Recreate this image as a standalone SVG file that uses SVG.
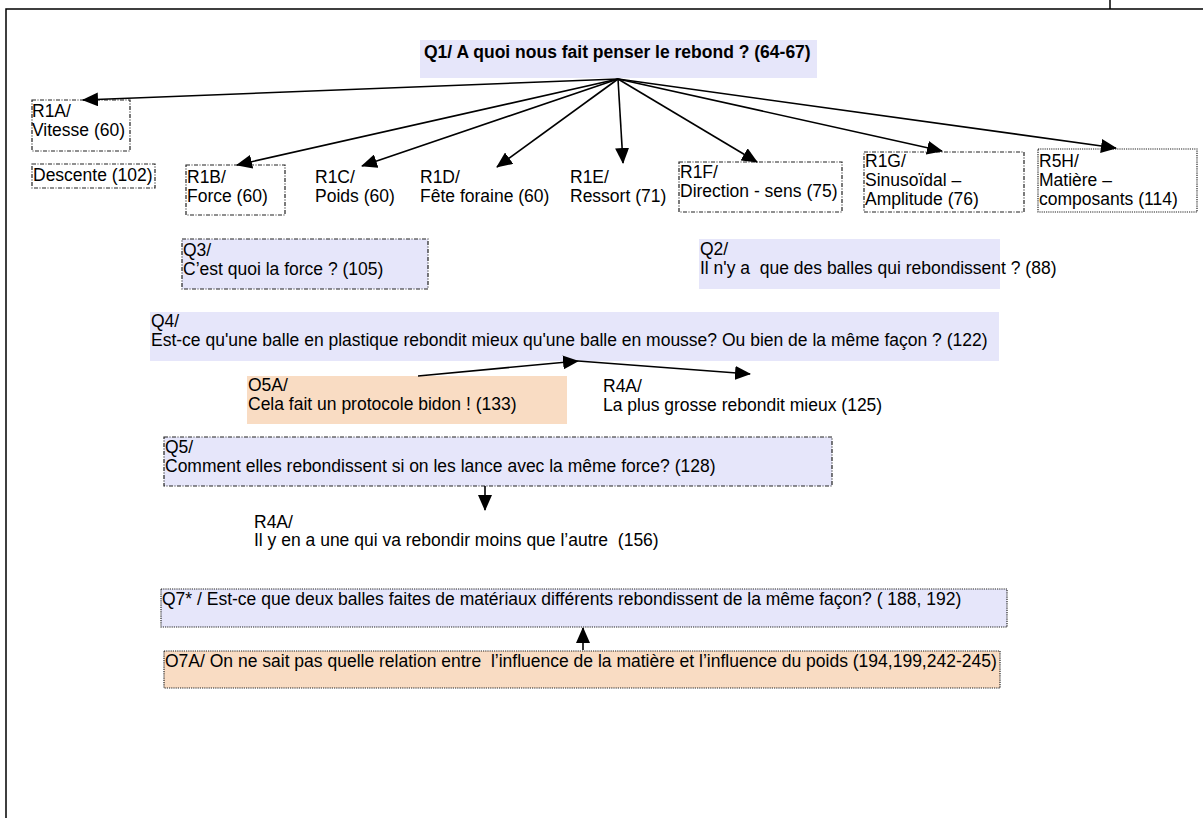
<svg xmlns="http://www.w3.org/2000/svg" width="1203" height="818" viewBox="0 0 1203 818">
<style>
text{font-family:"Liberation Sans",Arial,sans-serif;font-size:17.5px;fill:#000;white-space:pre}
.b{font-weight:bold}
.q{fill:#e6e6fa}
.o{fill:#f9dcc3}
.dd{fill:none;stroke:#222;stroke-width:1.2;stroke-dasharray:4 1.5 1 1.5}
.qd{fill:#e6e6fa;stroke:#222;stroke-width:1.2;stroke-dasharray:4 1.5 1 1.5}
.dt{stroke:#222;stroke-width:1.2;stroke-dasharray:1.2 1}
.c{fill:none;stroke:#000;stroke-width:1.6;marker-end:url(#ah)}
</style>
<defs>
<marker id="ah" markerUnits="userSpaceOnUse" markerWidth="16" markerHeight="14" viewBox="0 0 16 14" refX="15" refY="7" orient="auto">
<path d="M0,0 L16,7 L0,14 Z" fill="#000"/>
</marker>
</defs>
<rect width="1203" height="818" fill="#fff"/>
<g id="frame" fill="none" stroke="#000" stroke-width="1.5">
<path d="M6,818 V9 H1203"/>
<path d="M1110,0 V9"/>
</g>
<g id="Q1"><rect class="q" x="420" y="40" width="397" height="38"/><text class="b" x="424" y="58">Q1/ A quoi nous fait penser le rebond ? (64-67)</text></g>
<g id="R1A"><rect class="dd" x="32" y="100" width="98" height="51"/><text x="32" y="117">R1A/</text><text x="32" y="136">Vitesse (60)</text></g>
<g id="Descente"><rect class="dd" x="32" y="164" width="123" height="24"/><text x="33" y="181">Descente (102)</text></g>
<g id="R1B"><rect class="dd" x="186" y="165" width="99" height="50"/><text x="187" y="183">R1B/</text><text x="187" y="202">Force (60)</text></g>
<g id="R1C"><text x="315" y="183">R1C/</text><text x="315" y="202">Poids (60)</text></g>
<g id="R1D"><text x="420" y="183">R1D/</text><text x="420" y="202">Fête foraine (60)</text></g>
<g id="R1E"><text x="570" y="183">R1E/</text><text x="570" y="202">Ressort (71)</text></g>
<g id="R1F"><rect class="dd" x="679" y="162" width="163" height="50"/><text x="680" y="178">R1F/</text><text x="680" y="197">Direction - sens (75)</text></g>
<g id="R1G"><rect class="dd" x="864" y="152" width="160" height="60"/><text x="865" y="167">R1G/</text><text x="865" y="186">Sinusoïdal –</text><text x="865" y="205">Amplitude (76)</text></g>
<g id="R5H"><rect class="dt" fill="none" x="1038" y="149" width="159" height="63"/><text x="1039" y="167">R5H/</text><text x="1039" y="186">Matière –</text><text x="1039" y="205">composants (114)</text></g>
<g id="Q3"><rect class="qd" x="182" y="239" width="246" height="50"/><text x="183" y="256">Q3/</text><text x="183" y="275">C’est quoi la force ? (105)</text></g>
<g id="Q2"><rect class="q" x="699" y="239" width="301" height="50"/><text x="700" y="255">Q2/</text><text x="700" y="274">Il n'y a  que des balles qui rebondissent ? (88)</text></g>
<g id="Q4"><rect class="q" x="150" y="312" width="849" height="49"/><text x="151" y="327">Q4/</text><text x="151" y="346">Est-ce qu'une balle en plastique rebondit mieux qu'une balle en mousse? Ou bien de la même façon ? (122)</text></g>
<g id="O5A"><rect class="o" x="247" y="376" width="320" height="48"/><text x="248" y="391">O5A/</text><text x="248" y="410">Cela fait un protocole bidon ! (133)</text></g>
<g id="R4A-125"><text x="603" y="392">R4A/</text><text x="603" y="411">La plus grosse rebondit mieux (125)</text></g>
<g id="Q5"><rect class="qd" x="164" y="437" width="668" height="49"/><text x="165" y="453">Q5/</text><text x="165" y="472">Comment elles rebondissent si on les lance avec la même force? (128)</text></g>
<g id="R4A-156"><text x="254" y="528">R4A/</text><text x="254" y="546">Il y en a une qui va rebondir moins que l’autre  (156)</text></g>
<g id="Q7"><rect class="dt" fill="#e6e6fa" x="161" y="589" width="846" height="38"/><text x="162" y="605">Q7* / Est-ce que deux balles faites de matériaux différents rebondissent de la même façon? ( 188, 192)</text></g>
<g id="O7A"><rect class="dt" fill="#f9dcc3" x="164" y="651" width="836" height="37"/><text x="165" y="667">O7A/ On ne sait pas quelle relation entre  l’influence de la matière et l’influence du poids (194,199,242-245)</text></g>
<g id="connectors">
<path class="c" d="M618,79 L83,100"/>
<path class="c" d="M618,79 L237,165"/>
<path class="c" d="M618,79 L362,166"/>
<path class="c" d="M618,79 L497,167"/>
<path class="c" d="M618,79 L623,163"/>
<path class="c" d="M618,79 L757,162"/>
<path class="c" d="M618,79 L942,151"/>
<path class="c" d="M618,79 L1116,148"/>
<path class="c" d="M418,376 L578,361"/>
<path class="c" d="M578,361 L750,374"/>
<path class="c" d="M485,486 L485,510"/>
<path class="c" d="M583,650 L583,628"/>
</g>
</svg>
